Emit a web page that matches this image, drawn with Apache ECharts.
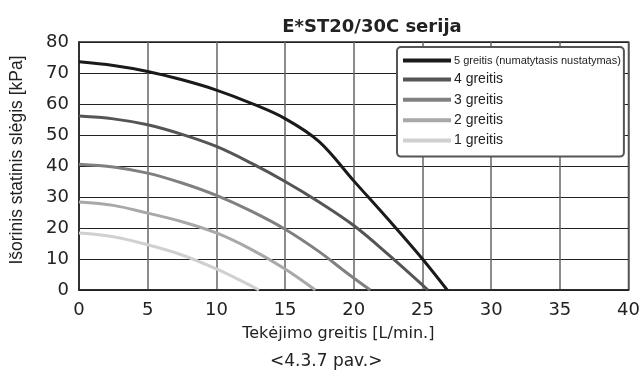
<!DOCTYPE html>
<html><head><meta charset="utf-8">
<script src="https://cdn.jsdelivr.net/npm/echarts@6/dist/echarts.min.js"></script>
<style>html,body{margin:0;padding:0;background:#fff}#c{width:643px;height:372px}</style>
</head><body><div id="c"></div>
<script>
const title = 'E*ST20/30C serija';
const xName = 'Tekėjimo greitis [L/min.]';
const yName = 'Išorinis statinis slėgis [kPa]';
const caption = '<4.3.7 pav.>';
const seriesNames = ['5 greitis (numatytasis nustatymas)', '4 greitis', '3 greitis', '2 greitis', '1 greitis'];
const speed5 = [[0,73.6],[2.5,72.4],[5,70.5],[7.5,67.8],[10,64.5],[12.5,60.3],[15,55.3],[17.5,47.8],[20,35.2],[22.5,22.8],[25,10],[26.8,0]];
const speed4 = [[0,56.1],[2.5,55.2],[5,53.3],[7.5,50.2],[10,46.3],[12.5,41],[15,35],[17.5,28.3],[20,20.8],[22.5,11.5],[25.4,0]];
const speed3 = [[0,40.6],[2.5,39.7],[5,37.7],[7.5,34.5],[10,30.5],[12.5,25.5],[15,19.6],[17.5,12.3],[19.5,5.5],[21.2,0]];
const speed2 = [[0,28.4],[2.5,27.3],[5,24.8],[7.5,22],[10,18.4],[12.5,13.2],[15,6.8],[17.2,0]];
const speed1 = [[0,18.4],[2.5,17.2],[5,14.6],[7.5,11.3],[10,6.8],[11.6,3.4],[13.1,0]];
const colors = ['#1a1a1a', '#555555', '#808080', '#a8a8a8', '#d0d0d0'];
const allData = [speed5, speed4, speed3, speed2, speed1];

const chart = echarts.init(document.getElementById('c'), null, {renderer: 'canvas'});
const wide = '"DejaVu Sans", sans-serif';
const font = '"Liberation Sans", Arial, sans-serif';
chart.setOption({
  animation: false,
  textStyle: {fontFamily: font},
  title: {text: title, left: 367, top: 13, textAlign: 'center',
    textStyle: {fontSize: 18, fontWeight: 'bold', color: '#222', fontFamily: wide}},
  grid: {left: 79, right: 11, top: 42, bottom: 82, show: true, borderColor: '#222', borderWidth: 1.5},
  legend: {
    orient: 'vertical', left: 397, top: 47, itemWidth: 48, itemHeight: 4, itemGap: 6.4,
    padding: [8, 3, 9, 6],
    backgroundColor: '#fff', borderColor: '#555', borderWidth: 2, borderRadius: 4,
    data: seriesNames.map((n, i) => ({name: n, icon: 'rect', itemStyle: {color: colors[i]}})),
    formatter: function (n) { return n === seriesNames[0] ? '{a|' + n + '}' : '{b|' + n + '}'; },
    textStyle: {
      color: '#222', padding: [0, 0, 0, -2],
      rich: {
        a: {fontFamily: font, fontSize: 11, lineHeight: 14, color: '#222'},
        b: {fontFamily: font, fontSize: 14, lineHeight: 14, color: '#222'}
      }
    }
  },
  xAxis: {
    type: 'value', min: 0, max: 40, interval: 5,
    name: xName, nameLocation: 'middle', nameGap: 36,
    nameTextStyle: {fontSize: 16, color: '#222', fontFamily: wide, padding: [0, 31, 0, 0]},
    axisLine: {show: true, lineStyle: {color: '#222', width: 1.5}},
    axisTick: {show: false},
    axisLabel: {fontSize: 18, color: '#222', margin: 11, fontFamily: wide},
    splitLine: {show: true, lineStyle: {color: '#666', width: 1.5}}
  },
  yAxis: {
    type: 'value', min: 0, max: 80, interval: 10,
    axisLine: {show: true, lineStyle: {color: '#222', width: 1.5}},
    axisTick: {show: false},
    axisLabel: {fontSize: 18, color: '#222', margin: 10, fontFamily: wide},
    splitLine: {show: true, lineStyle: {color: '#222', width: 1}}
  },
  graphic: [{
    type: 'text', x: 17, y: 160, rotation: Math.PI / 2,
    style: {text: yName, font: '17.5px "Liberation Sans", Arial, sans-serif', fill: '#222',
      textAlign: 'center', textVerticalAlign: 'middle'}
  }, {
    type: 'text', left: 270, top: 353,
    style: {text: caption, font: '17px "DejaVu Sans", sans-serif', fill: '#222'}
  }],
  series: allData.map((d, i) => ({
    name: seriesNames[i], type: 'line', data: d, smooth: 0.35, showSymbol: false,
    lineStyle: {color: colors[i], width: 3}, itemStyle: {color: colors[i]}, z: 10 - i
  }))
});
</script></body></html>
